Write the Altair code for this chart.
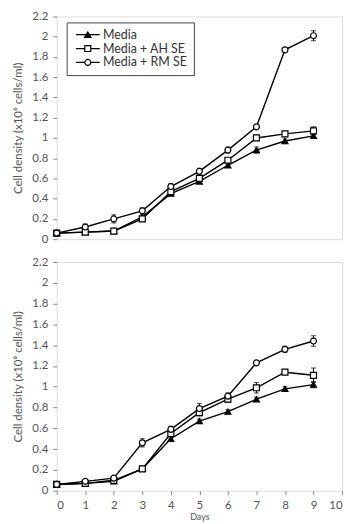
import altair as alt
import pandas as pd

days = [0, 1, 2, 3, 4, 5, 6, 7, 8, 9]
series = ["Media", "Media + AH SE", "Media + RM SE"]

# Top panel
top_media = [0.06, 0.07, 0.08, 0.22, 0.45, 0.57, 0.73, 0.88, 0.97, 1.02]
top_media_err = [0.01, 0.01, 0.01, 0.02, 0.02, 0.02, 0.02, 0.03, 0.02, 0.02]
top_ah = [0.06, 0.07, 0.08, 0.20, 0.47, 0.60, 0.78, 1.00, 1.04, 1.07]
top_ah_err = [0.01, 0.01, 0.01, 0.02, 0.02, 0.02, 0.02, 0.02, 0.02, 0.04]
top_rm = [0.06, 0.12, 0.20, 0.28, 0.52, 0.67, 0.88, 1.11, 1.87, 2.01]
top_rm_err = [0.01, 0.03, 0.04, 0.03, 0.03, 0.03, 0.03, 0.02, 0.02, 0.05]

# Bottom panel
bot_media = [0.06, 0.07, 0.09, 0.21, 0.50, 0.67, 0.76, 0.88, 0.98, 1.02]
bot_media_err = [0.01, 0.01, 0.01, 0.02, 0.02, 0.02, 0.02, 0.02, 0.02, 0.03]
bot_ah = [0.06, 0.07, 0.10, 0.21, 0.55, 0.75, 0.88, 0.99, 1.14, 1.11]
bot_ah_err = [0.01, 0.01, 0.01, 0.02, 0.03, 0.03, 0.03, 0.05, 0.02, 0.07]
bot_rm = [0.06, 0.09, 0.12, 0.46, 0.59, 0.79, 0.91, 1.23, 1.36, 1.44]
bot_rm_err = [0.01, 0.01, 0.02, 0.04, 0.03, 0.05, 0.03, 0.02, 0.03, 0.05]

y_ticks = [0, 0.2, 0.4, 0.6, 0.8, 1.0, 1.2, 1.4, 1.6, 1.8, 2.0, 2.2]
x_ticks = [0, 1, 2, 3, 4, 5, 6, 7, 8, 9, 10]


def make_df(vals, errs):
    rows = []
    for s, v, e in zip(series, vals, errs):
        for d, val, er in zip(days, v, e):
            rows.append({"day": d, "series": s, "value": val,
                         "lo": val - er, "hi": val + er})
    return pd.DataFrame(rows)


top_df = make_df([top_media, top_ah, top_rm], [top_media_err, top_ah_err, top_rm_err])
bot_df = make_df([bot_media, bot_ah, bot_rm], [bot_media_err, bot_ah_err, bot_rm_err])

FONT = "Lato"
GRAY = "#555555"
FRAME = "#8a8a8a"
W = 287

legend_paths = [
    "M-4,0H4M0,-0.9L-1.05,0.9H1.05Z",
    "M-4,0H-1M1,0H4M-1,-1H1V1H-1Z",
    "M-4,0H-1M1,0H4M1,0A1,1,0,1,1,-1,0A1,1,0,1,1,1,0Z",
]


def panel(df, show_x, show_legend, h):
    if show_x:
        x_axis = alt.Axis(values=x_ticks, title="Days",
                          grid=False, domain=False, tickColor=FRAME, tickSize=4,
                          labelFont=FONT, labelFontSize=11.5, labelColor=GRAY, labelPadding=5,
                          titleFont=FONT, titleFontSize=9, titleColor=GRAY, titleFontWeight="normal",
                          titlePadding=2)
    else:
        x_axis = None
    y_axis = alt.Axis(values=y_ticks, format="~g", grid=False, domain=False, labelOverlap=False,
                      tickColor=FRAME, tickSize=4,
                      labelFont=FONT, labelFontSize=11.5, labelColor=GRAY, labelPadding=5,
                      title="Cell density (x10⁶ cells/ml)", titleFont=FONT, titleFontSize=11.5,
                      titleColor=GRAY, titleFontWeight="normal", titlePadding=8)
    x = alt.X("day:Q", scale=alt.Scale(domain=[0, 10], nice=False), axis=x_axis)
    y = alt.Y("value:Q", scale=alt.Scale(domain=[0, 2.2], nice=False), axis=y_axis)
    base = alt.Chart(df)
    lines = base.mark_line(color="black", strokeWidth=1.4).encode(x=x, y=y, detail="series:N")
    errs = base.mark_errorbar(color="black", ticks=alt.TickConfig(size=5, thickness=1), thickness=1).encode(
        x=x, y=alt.Y("lo:Q", scale=alt.Scale(domain=[0, 2.2], nice=False), axis=y_axis), y2="hi:Q")
    pts = base.mark_point(filled=True, stroke="black", strokeWidth=1.2, size=36, opacity=1).encode(
        x=x, y=y,
        shape=alt.Shape("series:N", scale=alt.Scale(domain=series, range=["triangle-up", "square", "circle"]), legend=None),
        fill=alt.Fill("series:N", scale=alt.Scale(domain=series, range=["black", "white", "white"]), legend=None),
    )
    layers = [lines, errs, pts]
    if show_legend:
        leg = alt.Legend(title=None, orient="none", padding=6,
                         strokeColor="#444444", fillColor="white",
                         labelFont=FONT, labelFontSize=12.5, labelColor="#333333",
                         symbolSize=36, symbolStrokeColor="black", symbolStrokeWidth=1.2,
                         symbolOpacity=1,
                         symbolOffset=9, labelOffset=9, rowPadding=1, legendX=10, legendY=6)
        dummy = base.transform_filter("false").mark_point(filled=True, strokeWidth=1.2, size=36, opacity=1).encode(
            x=x, y=y,
            shape=alt.Shape("series:N", scale=alt.Scale(domain=series, range=legend_paths), legend=leg),
            fill=alt.Fill("series:N", scale=alt.Scale(domain=series, range=["black", "white", "white"]), legend=leg),
            stroke=alt.Stroke("series:N", scale=alt.Scale(domain=series, range=["black", "black", "black"]), legend=leg),
        )
        layers.append(dummy)
    ch = alt.layer(*layers).resolve_scale(shape="independent", fill="independent", stroke="independent").properties(width=W, height=h)
    return ch


top = panel(top_df, False, True, 224)
bot = panel(bot_df, True, False, 230)

chart = alt.vconcat(top, bot, spacing=10).properties(padding={"left": 4, "top": 0, "right": 4, "bottom": 0}).configure_view(
    stroke=FRAME, strokeWidth=1.2
).configure(font=FONT)

chart.save("out.html", embed_options={"renderer": "svg", "actions": False})
